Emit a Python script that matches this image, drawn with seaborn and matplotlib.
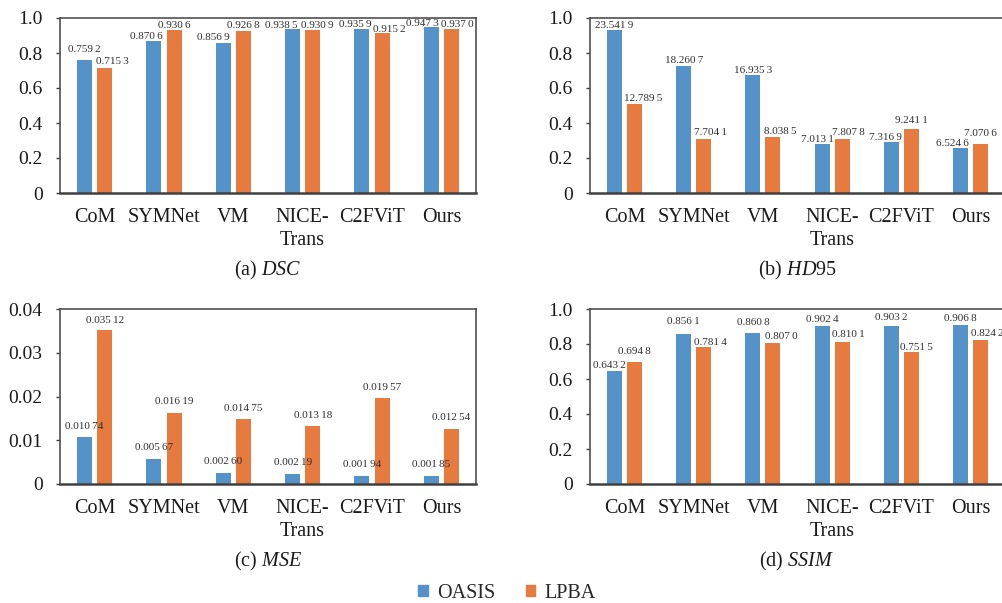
import matplotlib
matplotlib.use("Agg")
import matplotlib.pyplot as plt
import matplotlib.patches as mpatches
import seaborn as sns
import pandas as pd

methods = ["CoM", "SYMNet", "VM", "NICE-\nTrans", "C2FViT", "Ours"]
series = ["OASIS", "LPBA"]

T = "\u2009"  # thin space used as digit group separator

dsc_oasis = [0.7592, 0.8706, 0.8569, 0.9385, 0.9359, 0.9473]
dsc_lpba = [0.7153, 0.9306, 0.9268, 0.9309, 0.9152, 0.9370]
dsc_oasis_lbl = ["0.759 2", "0.870 6", "0.856 9", "0.938 5", "0.935 9", "0.947 3"]
dsc_lpba_lbl = ["0.715 3", "0.930 6", "0.926 8", "0.930 9", "0.915 2", "0.937 0"]

# HD95: bar heights (normalised scale) and printed values
hd_oasis = [0.934, 0.725, 0.672, 0.278, 0.290, 0.259]
hd_lpba = [0.507, 0.306, 0.319, 0.310, 0.367, 0.281]
hd_oasis_lbl = ["23.541 9", "18.260 7", "16.935 3", "7.013 1", "7.316 9", "6.524 6"]
hd_lpba_lbl = ["12.789 5", "7.704 1", "8.038 5", "7.807 8", "9.241 1", "7.070 6"]

mse_oasis = [0.01074, 0.00567, 0.00260, 0.00219, 0.00194, 0.00185]
mse_lpba = [0.03512, 0.01619, 0.01475, 0.01318, 0.01957, 0.01254]
mse_oasis_lbl = ["0.010 74", "0.005 67", "0.002 60", "0.002 19", "0.001 94", "0.001 85"]
mse_lpba_lbl = ["0.035 12", "0.016 19", "0.014 75", "0.013 18", "0.019 57", "0.012 54"]

ssim_oasis = [0.6432, 0.8561, 0.8608, 0.9024, 0.9032, 0.9068]
ssim_lpba = [0.6948, 0.7814, 0.8070, 0.8101, 0.7515, 0.8242]
ssim_oasis_lbl = ["0.643 2", "0.856 1", "0.860 8", "0.902 4", "0.903 2", "0.906 8"]
ssim_lpba_lbl = ["0.694 8", "0.781 4", "0.807 0", "0.810 1", "0.751 5", "0.824 2"]

ticks_unit = [0, 0.2, 0.4, 0.6, 0.8, 1.0]
ticks_unit_lbl = ["0", "0.2", "0.4", "0.6", "0.8", "1.0"]
ticks_mse = [0, 0.01, 0.02, 0.03, 0.04]
ticks_mse_lbl = ["0", "0.01", "0.02", "0.03", "0.04"]

captions = ["(a) $\\mathit{DSC}$", "(b) $\\mathit{HD}$95", "(c) $\\mathit{MSE}$", "(d) $\\mathit{SSIM}$"]

# label placement nudges (pixels): horizontal shift and gap above the bar
dx_a = ([0, -7.5, -10, -11, -7, -9], [8, 0, 0, 5, 7.5, 5.5])
dy_a = ([8, 2, 3, 1, 2, 1], [4, 2, 3, 2, 1, 2])
dx_b = ([0, 0, 0, -5, -6, -8], [8.5, 7, 7, 6.5, 0, 0])
dy_b = ([2, 3, 2, 2, 2, 2], [3, 4, 3, 4, 6, 8])
dx_c = ([0, 0, 0, 0, 0, 0], [0, 0, 0, 0, 0, 0])
dy_c = ([8, 9, 9, 9, 9, 9], [7, 9, 8, 8, 8, 9])
dx_d = ([-5.5, 0, 0, 0, 0, 0], [0, 6.5, 8.5, 6, 5, 7])
dy_d = ([3, 10, 8, 4, 6, 4], [8, 2, 4, 5, 2, 4])

colors = {"OASIS": "#5592C8", "LPBA": "#E77A3F"}

sns.set_theme(style="ticks")
plt.rcParams["font.family"] = ["Liberation Serif", "DejaVu Serif"]
plt.rcParams["mathtext.fontset"] = "custom"
plt.rcParams["mathtext.rm"] = "Liberation Serif"
plt.rcParams["mathtext.it"] = "Liberation Serif:italic"

fig = plt.figure(figsize=(10.02, 6.03), dpi=100)
W, H = 1002.0, 603.0

def make_ax(left, top, right, bottom):
    return fig.add_axes([left / W, 1 - bottom / H, (right - left) / W, (bottom - top) / H])

panels = [
    (make_ax(60, 18, 476, 193), dsc_oasis, dsc_lpba, dsc_oasis_lbl, dsc_lpba_lbl, ticks_unit, ticks_unit_lbl, (268, 270), dx_a, dy_a),
    (make_ax(590, 18, 1005, 193), hd_oasis, hd_lpba, hd_oasis_lbl, hd_lpba_lbl, ticks_unit, ticks_unit_lbl, (797, 270), dx_b, dy_b),
    (make_ax(60, 309, 476, 484), mse_oasis, mse_lpba, mse_oasis_lbl, mse_lpba_lbl, ticks_mse, ticks_mse_lbl, (268, 561), dx_c, dy_c),
    (make_ax(590, 309, 1005, 484), ssim_oasis, ssim_lpba, ssim_oasis_lbl, ssim_lpba_lbl, ticks_unit, ticks_unit_lbl, (797, 561), dx_d, dy_d),
]

for i, (ax, vo, vl, lo, ll, yt, ytl, cap, dxs, dys) in enumerate(panels):
    df = pd.DataFrame({
        "Method": methods * 2,
        "Dataset": ["OASIS"] * len(methods) + ["LPBA"] * len(methods),
        "Value": list(vo) + list(vl),
    })
    sns.barplot(data=df, x="Method", y="Value", hue="Dataset", hue_order=series,
                palette=colors, width=0.58, gap=0.25, ax=ax, legend=False,
                saturation=1, edgecolor="none")
    for k, labels in enumerate([lo, ll]):
        for j, bar in enumerate(ax.containers[k]):
            xc = bar.get_x() + bar.get_width() / 2
            yc = bar.get_height()
            ax.annotate(labels[j].replace(" ", T), (xc, yc), xytext=(dxs[k][j], dys[k][j]),
                        textcoords="offset pixels", ha="center", va="baseline",
                        fontsize=8, color="#303030", annotation_clip=False)
    ax.set_xlim(-0.5, 5.5)
    ax.set_ylim(yt[0], yt[-1])
    ax.set_yticks(yt)
    ax.set_yticklabels(ytl)
    ax.set_xlabel("")
    ax.set_ylabel("")
    ax.tick_params(axis="y", direction="out", length=3, width=1, color="#404040",
                   labelsize=14, labelcolor="#1a1a1a", pad=9.5)
    ax.tick_params(axis="x", length=0, labelsize=14.5, labelcolor="#1a1a1a", pad=11)
    for s in ["top", "right", "left"]:
        ax.spines[s].set_color("#505050")
        ax.spines[s].set_linewidth(1.2)
        ax.spines[s].set_visible(True)
    ax.spines["bottom"].set_color("#404040")
    ax.spines["bottom"].set_linewidth(1.8)
    for lab in ax.get_xticklabels():
        lab.set_linespacing(1.3)
        lab.set_verticalalignment("top")
    fig.text(cap[0] / W, 1 - cap[1] / H, captions[i], ha="center", va="center",
             fontsize=14.5, color="#1a1a1a")

handles = [mpatches.Patch(color=colors[s], label=s) for s in series]
fig.legend(handles=handles, labels=series, loc="center", bbox_to_anchor=(507 / W, 1 - 593 / H),
           ncol=2, frameon=False, fontsize=14.5, handlelength=0.48, handleheight=0.48,
           handletextpad=0.45, columnspacing=1.5)

fig.savefig("out.png", dpi=100)
